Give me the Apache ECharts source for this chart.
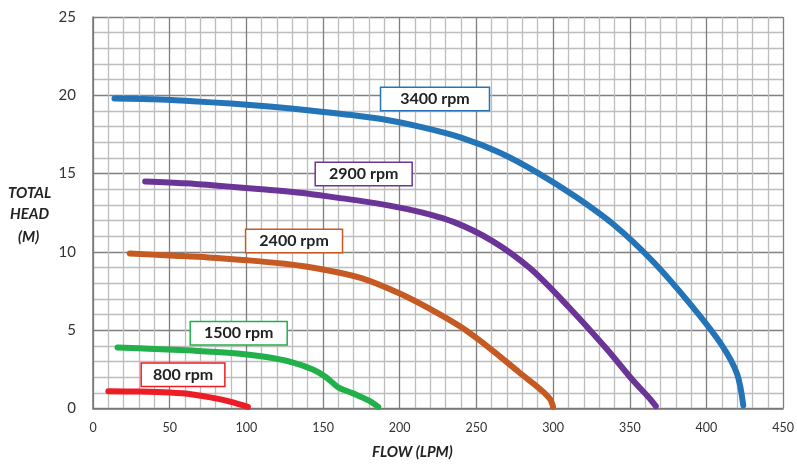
<!DOCTYPE html>
<html>
<head>
<meta charset="utf-8">
<script src="https://cdn.jsdelivr.net/npm/echarts@6/dist/echarts.min.js"></script>
<style>html,body{margin:0;padding:0;background:#fff;}#c{width:797px;height:466px;}</style>
</head>
<body>
<div id="c"></div>
<script>
// Flow (LPM), Head (M) pairs
const rpm3400 = [[14,19.8],[40,19.75],[65,19.62],[90,19.47],[115,19.28],[140,19.05],[165,18.78],[190,18.45],[215,17.95],[240,17.3],[265,16.35],[290,15.05],[315,13.5],[340,11.7],[365,9.4],[390,6.6],[410,4.05],[420,2.2],[424,0.2]];
const rpm2900 = [[34,14.5],[60,14.38],[85,14.2],[110,14.0],[135,13.78],[160,13.45],[185,13.1],[210,12.62],[235,11.92],[260,10.72],[285,8.95],[310,6.5],[335,3.8],[352,1.8],[362,0.75],[367,0.15]];
const rpm2400 = [[24,9.9],[50,9.77],[75,9.65],[100,9.47],[125,9.24],[150,8.88],[175,8.33],[200,7.35],[220,6.35],[240,5.2],[260,3.75],[278,2.3],[292,1.2],[298,0.6],[300,0.1]];
const rpm1500 = [[16,3.9],[40,3.8],[65,3.7],[90,3.55],[112,3.3],[130,2.95],[143,2.5],[152,2.0],[160,1.35],[170,0.95],[180,0.5],[186,0.1]];
const rpm800 = [[10,1.1],[30,1.08],[50,1.02],[65,0.9],[80,0.65],[90,0.42],[101,0.1]];
const seriesNames = ['3400 rpm','2900 rpm','2400 rpm','1500 rpm','800 rpm'];
const labelAnchors = [[223,19.77],[176.5,14.97],[131.1,10.7],[95,4.8],[58.7,2.15]];
const xTicks = [0,50,100,150,200,250,300,350,400,450];
const yTicks = [0,5,10,15,20,25];

const colors = ['#2475b8','#6b3598','#c55a22','#22b04b','#ee1c25'];
const pads = [[3,19],[3,13],[3,13],[3,13],[3,11]];
const datasets = [rpm3400,rpm2900,rpm2400,rpm1500,rpm800];
const chart = echarts.init(document.getElementById('c'));
const FONT = 'Lato, "Open Sans", sans-serif';
chart.setOption({
  animation:false,
  grid:{left:93,right:9,top:17,bottom:57.5},
  xAxis:{type:'value',min:xTicks[0],max:xTicks[xTicks.length-1],interval:50,
    axisLine:{show:true,lineStyle:{color:'#777',width:1.5}},
    axisTick:{show:false},
    axisLabel:{color:'#333',fontSize:12.5,fontFamily:FONT,margin:13},
    splitLine:{show:true,lineStyle:{color:'#7f7f7f',width:1.3}},
    minorTick:{show:false,splitNumber:5},
    minorSplitLine:{show:true,lineStyle:{color:'#bdbdbd',width:1.3}}
  },
  yAxis:{type:'value',min:yTicks[0],max:yTicks[yTicks.length-1],interval:5,
    axisLine:{show:true,lineStyle:{color:'#777',width:1.5}},
    axisTick:{show:false},
    axisLabel:{color:'#333',fontSize:15,fontFamily:FONT,margin:17},
    splitLine:{show:true,lineStyle:{color:'#7f7f7f',width:1.3}},
    minorTick:{show:false,splitNumber:5},
    minorSplitLine:{show:true,lineStyle:{color:'#bdbdbd',width:1.3}}
  },
  graphic:[
    {type:'text',left:8,top:186,style:{text:'TOTAL',font:'italic bold 15px '+FONT,fill:'#222'}},
    {type:'text',left:10,top:207,style:{text:'HEAD',font:'italic bold 15px '+FONT,fill:'#222'}},
    {type:'text',left:18,top:230,style:{text:'(M)',font:'italic bold 15px '+FONT,fill:'#222'}},
    {type:'text',left:372,top:445,style:{text:'FLOW (LPM)',font:'italic bold 15px '+FONT,fill:'#222'}}
  ],
  series: datasets.map((d,i)=>({
    type:'line',name:seriesNames[i],data:d,showSymbol:false,smooth:0.3,
    lineStyle:{color:colors[i],width:6,cap:'round',join:'round'},
    itemStyle:{color:colors[i]},
    markPoint:{symbol:'rect',symbolSize:0,silent:true,
      data:[{coord:labelAnchors[i],value:seriesNames[i],
        label:{show:true,position:'inside',formatter:seriesNames[i],color:'#222',
          fontFamily:FONT,fontWeight:'bold',fontSize:16,backgroundColor:'#fff',
          borderColor:colors[i],borderWidth:1.5,padding:pads[i]}}]}
  }))
});
</script>
</body>
</html>
